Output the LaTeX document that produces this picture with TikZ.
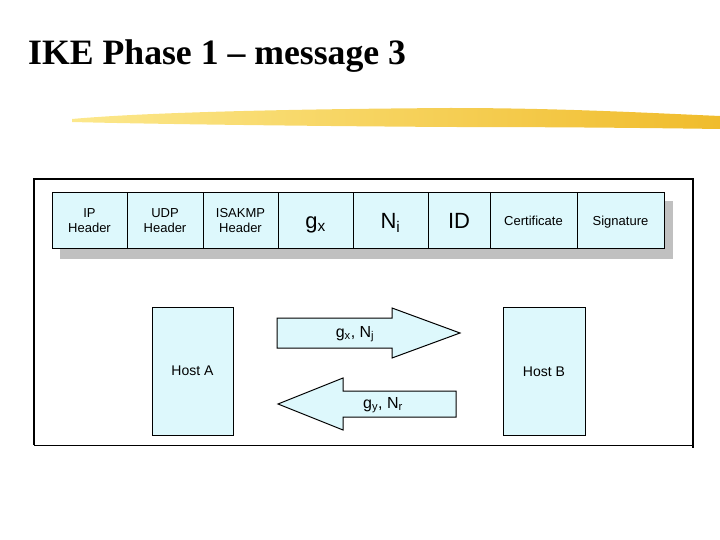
\documentclass[tikz,border=0pt]{standalone}
\usepackage{fontspec}
\setmainfont{Liberation Serif}
\setsansfont{Liberation Sans}
\usepackage{xcolor}
\usetikzlibrary{calc}

\definecolor{fieldcyan}{RGB}{221,248,252}
\definecolor{shadowgray}{RGB}{192,192,192}
\definecolor{brushlight}{RGB}{252,232,140}
\definecolor{brushmid}{RGB}{246,204,62}
\definecolor{brushdark}{RGB}{240,188,44}

\tikzset{
  field/.style={draw, line width=1pt, fill=fieldcyan, inner sep=0pt,
    minimum height=55pt, align=center, font=\sffamily\fontsize{13}{15}\selectfont},
  wordfield/.style={field, text height=9.5pt, text depth=0pt},
  bigfield/.style={field, text height=16pt, text depth=0pt, font=\sffamily\fontsize{22}{22}\selectfont},
  host/.style={draw, line width=0.6pt, fill=fieldcyan, inner sep=0pt,
    minimum width=81pt, minimum height=128pt, font=\sffamily\fontsize{14}{14}\selectfont},
  msgarrow/.style={draw, line width=1pt, fill=fieldcyan},
  msglabel/.style={inner sep=0pt, font=\sffamily\fontsize{16}{16}\selectfont}
}

\begin{document}
\begin{tikzpicture}[x=1pt, y=-1pt]
    \useasboundingbox (0,0) rectangle (720,540);

    % title and brush stroke
    \node[anchor=base west, inner sep=0pt, font=\bfseries\fontsize{35.7}{40}\selectfont] (title) at (28,65) {IKE Phase 1 – message 3};
    \shade[left color=brushlight, middle color=brushmid, right color=brushdark]
      (72,119) .. controls (150,112) and (300,109) .. (450,108)
      .. controls (560,108) and (650,113) .. (720,116) -- (720,129)
      .. controls (650,128) and (560,127) .. (450,127)
      .. controls (300,126) and (150,124) .. (72,122) -- cycle;

    % frame
    \coordinate (TL) at (34,179);
    \coordinate (TR) at (693,179);
    \coordinate (BL) at (34,445);
    \coordinate (BR) at (693,445);
    \draw[line width=1.5pt] (BL) -- (TL) -- (TR) -- ($(BR)+(0,3)$);
    \draw[line width=0.8pt] (BL) -- (BR);

    % packet
    \fill[shadowgray] (60,201) rectangle (673,259);
    \node[field, minimum width=75pt] (iphdr) at (89.5,220.5) {IP\\Header};
    \node[field, minimum width=76pt] (udphdr) at (165,220.5) {UDP\\Header};
    \node[field, minimum width=75pt] (isakmp) at (240.5,220.5) {ISAKMP\\Header};
    \node[bigfield, minimum width=75pt] (gx) at (315.5,220.5) {g\textsubscript{x}};
    \node[bigfield, minimum width=75pt] (ni) at (390.5,220.5) {N\textsubscript{i}};
    \node[bigfield, minimum width=62pt] (id) at (459,220.5) {ID};
    \node[wordfield, minimum width=87pt] (cert) at (533.5,220.5) {Certificate};
    \node[wordfield, minimum width=87pt] (sig) at (620.5,220.5) {Signature};

    % hosts
    \node[host] (hostA) at (192.5,371) {Host A};
    \node[host, minimum width=82pt] (hostB) at (544,371.5) {Host B};

    % messages
    \draw[msgarrow] (277,318) -- (392,318) -- (392,308) -- (460,333) -- (392,358) -- (392,348) -- (277,348) -- cycle;
    \node[msglabel] (msgA) at (355,334) {g\textsubscript{x}, N\textsubscript{j}};
    \draw[msgarrow] (456,391) -- (343,391) -- (343,378) -- (278,404) -- (343,430) -- (343,417) -- (456,417) -- cycle;
    \node[msglabel] (msgB) at (383,405) {g\textsubscript{y}, N\textsubscript{r}};
  \end{tikzpicture}
\end{document}
